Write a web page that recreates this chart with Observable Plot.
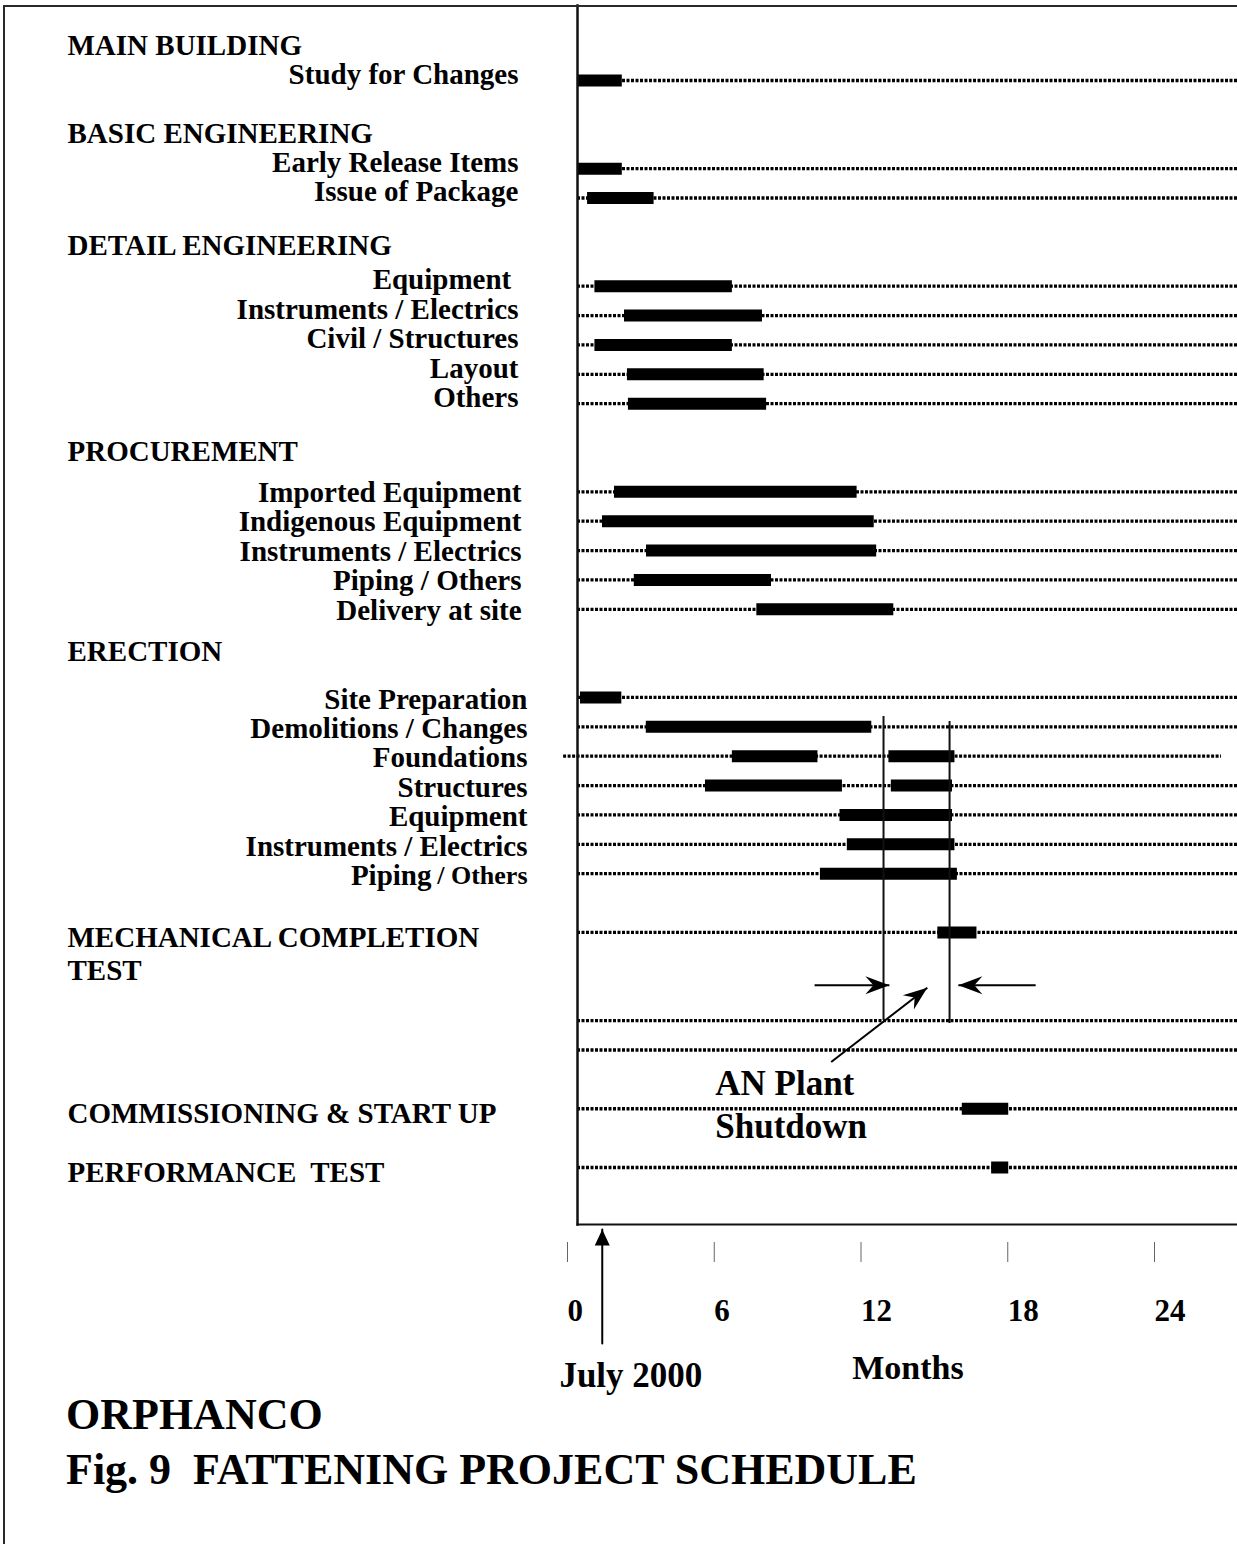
<!DOCTYPE html>
<html>
<head>
<meta charset="utf-8">
<script src="https://cdn.jsdelivr.net/npm/d3@7"></script>
<script src="https://cdn.jsdelivr.net/npm/@observablehq/plot@0.6"></script>
<style>
  body { margin: 0; background: #fff; }
  #wrap { position: relative; width: 1237px; height: 1544px; overflow: hidden; background: #fff; }
  #chart { position: absolute; left: 0; top: 0; }
  .bl { position: absolute; background: #2a2a2a; }
  .ttl { position: absolute; left: 66px; font-family: "Liberation Serif", "Times New Roman", serif; font-weight: bold;
         font-size: 44px; line-height: 44px; white-space: pre; color: #000; }
  svg text { white-space: pre; }
</style>
</head>
<body>
<div id="wrap">
  <div id="chart"></div>
  <div class="bl" style="left:3px;top:5px;width:2px;height:1539px"></div>
  <div class="bl" style="left:3px;top:5px;width:1234px;height:2px"></div>
  <div class="ttl" id="t1" style="top:1393px"></div>
  <div class="ttl" id="t2" style="top:1448px"></div>
</div>
<script>
// ---------------- data ----------------
// row order of the schedule ("" = empty spacer slot)
const rowIds = ["mb-study", "", "", "be-early", "be-issue", "", "",
  "de-equip", "de-instr", "de-civil", "de-layout", "de-others", "", "",
  "pr-imported", "pr-indig", "pr-instr", "pr-piping", "pr-delivery", "", "",
  "er-site", "er-demol", "er-found", "er-struct", "er-equip", "er-instr", "er-piping", "",
  "mc", "", "", "blank-1", "blank-2", "", "cs", "", "pt"];

const itemIds = ["mb-study", "be-early", "be-issue", "de-equip", "de-instr", "de-civil", "de-layout", "de-others",
  "pr-imported", "pr-indig", "pr-instr", "pr-piping", "pr-delivery",
  "er-site", "er-demol", "er-found", "er-struct", "er-equip", "er-instr", "er-piping"];
const itemLabels = ["Study for Changes", "Early Release Items", "Issue of Package", "Equipment ", "Instruments / Electrics",
  "Civil / Structures", "Layout", "Others",
  "Imported Equipment", "Indigenous Equipment", "Instruments / Electrics", "Piping / Others", "Delivery at site",
  "Site Preparation", "Demolitions / Changes", "Foundations", "Structures", "Equipment", "Instruments / Electrics", "Piping / Others"];

const sectionTitles = ["MAIN BUILDING", "BASIC ENGINEERING", "DETAIL ENGINEERING", "PROCUREMENT", "ERECTION",
  "MECHANICAL COMPLETION\nTEST", "COMMISSIONING & START UP", "PERFORMANCE  TEST"];
const sectionFirstRow = ["mb-study", "be-early", "de-equip", "pr-imported", "er-site", "mc", "cs", "pt"];

// bars (months from project start)
const barRows = ["mb-study", "be-early", "be-issue", "de-equip", "de-instr", "de-civil", "de-layout", "de-others",
  "pr-imported", "pr-indig", "pr-instr", "pr-piping", "pr-delivery",
  "er-site", "er-demol", "er-found", "er-found", "er-struct", "er-struct", "er-equip", "er-instr", "er-piping",
  "mc", "cs", "pt"];
const barStart = [0.37, 0.37, 0.78, 1.08, 2.29, 1.08, 2.41, 2.45,
  1.88, 1.39, 3.19, 2.69, 7.7,
  0.49, 3.18, 6.7, 13.1, 5.6, 13.2, 11.1, 11.4, 10.3,
  15.1, 16.1, 17.3];
const barEnd = [2.2, 2.2, 3.5, 6.7, 7.93, 6.7, 8.0, 8.1,
  11.8, 12.5, 12.6, 8.3, 13.3,
  2.18, 12.4, 10.2, 15.8, 11.2, 15.7, 15.7, 15.8, 15.9,
  16.7, 18.0, 18.0];

const monthTicks = [0, 6, 12, 18, 24];

// annotations (x in months, y in row slots)
const extendedRowLine = [{row: "er-found", from: -0.2, to: 26.7}];
const shutdownLines = [{x: 12.88, y1: 21.65, y2: 32.0}, {x: 15.58, y1: 21.82, y2: 32.1}];
const pointerArrows = [
  {x1: 10.06, y1: 30.8, x2: 13.12, y2: 30.8},
  {x1: 19.1, y1: 30.8, x2: 15.94, y2: 30.8},
  {x1: 10.74, y1: 33.41, x2: 14.67, y2: 30.88}
];
const shutdownNote = [{x: 6, y: 34.8, text: "AN Plant\nShutdown"}];
const startMarker = [{x: 1.38, label: "July 2000", labelX: 2.55}];
const axisTitle = [{x: 13.88, text: "Months"}];
const titleLines = ["ORPHANCO", "Fig. 9  FATTENING PROJECT SCHEDULE"];

// ---------------- build ----------------
const X0 = 568, X24 = 1155, Y0 = 80, Y37 = 1167;
const pxPerMonth = (X24 - X0) / 24, pxPerRow = (Y37 - Y0) / 37;
const rowIndex = (id) => rowIds.indexOf(id);
const labelOf = (id) => itemLabels[itemIds.indexOf(id)];
const lineRows = rowIds.filter((d) => d !== "" && !extendedRowLine.some((e) => e.row === d));
const bars = barRows.map((r, i) => ({row: r, start: barStart[i], end: barEnd[i]}));
const sections = sectionTitles.map((t, i) => ({title: t, first: sectionFirstRow[i]}));
const topSections = sections.filter((s) => itemIds.includes(s.first));
const bottomSections = sections.filter((s) => !itemIds.includes(s.first));
const arrowsWithAngle = pointerArrows.map((a) => ({...a,
  angle: Math.atan2((a.x2 - a.x1) * pxPerMonth, -(a.y2 - a.y1) * pxPerRow) * 180 / Math.PI}));

const headSymbol = (len, half, notch) => ({
  draw(ctx) { ctx.moveTo(0, 0); ctx.lineTo(-half, len); ctx.lineTo(0, len - notch); ctx.lineTo(half, len); ctx.closePath(); }
});
const plainLine = {draw(ctx, l) { ctx.moveTo(0, 0); ctx.lineTo(0, -l); }};

const dots = "3,1.5";
const DW = 3.3;
const F = 29;
const group = (p) => itemIds.filter((id) => id.startsWith(p));
const topItems = [...group("mb"), ...group("be"), ...group("de")];
const procItems = group("pr");
const erecItems = group("er").filter((d) => d !== "er-piping");
const splitItems = ["er-piping"];
const hdr = (names) => topSections.filter((s) => names.includes(s.first));

const chart = Plot.plot({
  width: 1237,
  height: 1390,
  marginLeft: 577,
  marginRight: 0,
  marginTop: 5,
  marginBottom: 166,
  x: {domain: [0, 24], range: [X0, X24]},
  y: {domain: [0, 37], range: [Y0, Y37], axis: null},
  style: {fontFamily: '"Liberation Serif", "Times New Roman", serif', background: "transparent", color: "#000", overflow: "visible"},
  marks: [
    // dotted row lines
    Plot.ruleY(lineRows, {y: (d) => rowIndex(d), stroke: "#000", strokeWidth: DW, strokeDasharray: dots}),
    Plot.ruleY(extendedRowLine, {y: (d) => rowIndex(d.row), x1: "from", x2: "to", stroke: "#000", strokeWidth: DW, strokeDasharray: dots}),
    // dotted vertical grid
    Plot.ruleX(monthTicks.filter((d) => d > 0), {x: (d) => d, y1: 0, dx: -1.5, stroke: "#000", strokeWidth: DW, strokeDasharray: dots}),
    // bars
    Plot.ruleY(bars, {y: (d) => rowIndex(d.row), x1: "start", x2: "end", stroke: "#000", strokeWidth: 12}),
    // shutdown window
    Plot.ruleX(shutdownLines, {x: "x", y1: "y1", y2: "y2", stroke: "#111", strokeWidth: 2}),
    Plot.link(arrowsWithAngle, {x1: "x1", y1: "y1", x2: "x2", y2: "y2", stroke: "#000", strokeWidth: 2}),
    Plot.dot(arrowsWithAngle, {x: "x2", y: "y2", rotate: "angle", symbol: headSymbol(24, 9, 8), fill: "#000", stroke: "none", r: 3}),
    // frame
    Plot.frame({anchor: "left", stroke: "#111", strokeWidth: 2.5}),
    Plot.frame({anchor: "bottom", stroke: "#111", strokeWidth: 2}),
    // row labels
    Plot.text(topItems, {y: (d) => rowIndex(d), text: labelOf, frameAnchor: "left", textAnchor: "end", dx: -59, dy: -6, fontSize: F, fontWeight: "bold"}),
    Plot.text(procItems, {y: (d) => rowIndex(d), text: labelOf, frameAnchor: "left", textAnchor: "end", dx: -56, dy: 1, fontSize: F, fontWeight: "bold"}),
    Plot.text(erecItems, {y: (d) => rowIndex(d), text: labelOf, frameAnchor: "left", textAnchor: "end", dx: -50, dy: 2, fontSize: F, fontWeight: "bold"}),
    Plot.text(splitItems, {y: (d) => rowIndex(d), text: (d) => labelOf(d).split(" / ")[0], frameAnchor: "left", textAnchor: "end", dx: -146, dy: 2, fontSize: F, fontWeight: "bold"}),
    Plot.text(splitItems, {y: (d) => rowIndex(d), text: (d) => " / " + labelOf(d).split(" / ")[1], frameAnchor: "left", textAnchor: "end", dx: -50, dy: 2, fontSize: 26, fontWeight: "bold"}),
    // section headers
    Plot.text(hdr(["mb-study", "be-early"]), {y: (d) => rowIndex(d.first) - 1.5, text: "title", frameAnchor: "left", textAnchor: "start", dx: -510, dy: 9, fontSize: F, fontWeight: "bold"}),
    Plot.text(hdr(["de-equip", "pr-imported"]), {y: (d) => rowIndex(d.first) - 1.5, text: "title", frameAnchor: "left", textAnchor: "start", dx: -510, dy: 4, fontSize: F, fontWeight: "bold"}),
    Plot.text(hdr(["er-site"]), {y: (d) => rowIndex(d.first) - 1.5, text: "title", frameAnchor: "left", textAnchor: "start", dx: -510, dy: -2, fontSize: F, fontWeight: "bold"}),
    Plot.text(bottomSections, {y: (d) => rowIndex(d.first), text: "title", frameAnchor: "left", textAnchor: "start", dx: -510, dy: -10, lineAnchor: "top", lineHeight: 1.17, fontSize: F, fontWeight: "bold"}),
    // x axis below the frame
    Plot.axisX({ticks: monthTicks, tickSize: 20, dy: 18, tickPadding: 36, textAnchor: "start", dx: -1, fontSize: 31, fontWeight: "bold", stroke: "#666", strokeWidth: 1, label: null}),
    Plot.text(axisTitle, {x: "x", text: "text", frameAnchor: "bottom", dy: 154, fontSize: 34, fontWeight: "bold"}),
    // start marker
    Plot.vector(startMarker, {x: "x", frameAnchor: "bottom", dy: 119, length: 114, rotate: 0, anchor: "start", shape: plainLine, stroke: "#000", strokeWidth: 2}),
    Plot.dot(startMarker, {x: "x", frameAnchor: "bottom", dy: 5, symbol: headSymbol(16, 7.5, 0), fill: "#000", stroke: "none", r: 3}),
    Plot.text(startMarker, {x: "labelX", text: "label", frameAnchor: "bottom", dy: 162, fontSize: 35, fontWeight: "bold"}),
    // note
    Plot.text(shutdownNote, {x: "x", y: "y", text: "text", textAnchor: "start", lineHeight: 1.23, fontSize: 35, fontWeight: "bold"})
  ]
});

const XML_NS = "http://www.w3.org/XML/1998/namespace";
chart.querySelectorAll("text").forEach((t) => t.setAttributeNS(XML_NS, "xml:space", "preserve"));
document.getElementById("chart").appendChild(chart);
document.getElementById("t1").textContent = titleLines[0];
document.getElementById("t2").textContent = titleLines[1];
</script>
</body>
</html>
